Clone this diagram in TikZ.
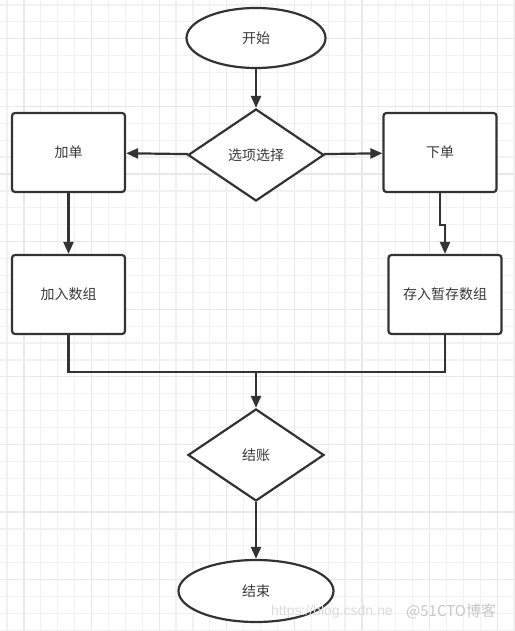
\documentclass[tikz,border=0pt]{standalone}
\usepackage{fontspec}
\newfontfamily\cjk{Noto Sans CJK SC}
\newfontfamily\wmfont{Liberation Sans}
\usetikzlibrary{shapes.geometric,arrows.meta}
\definecolor{ink}{HTML}{333333}
\definecolor{textink}{HTML}{3A3A3A}
\definecolor{gridminor}{HTML}{F1F1F1}
\definecolor{gridmajor}{HTML}{E8E8E8}
\tikzset{
  base/.style={draw=ink, line width=2.2pt, fill=white, text=textink, font=\cjk\fontsize{14pt}{16pt}\selectfont, inner sep=0pt},
  term/.style={base, ellipse, minimum width=#1},
  decision/.style={base, diamond, minimum width=136pt, minimum height=92pt, aspect=1.48},
  procbox/.style={base, rectangle, rounded corners=3pt, minimum width=113pt, minimum height=79pt},
  link/.style={draw=ink, line width=2.2pt},
  arr/.style={link, -{Triangle[length=12pt,width=10pt]}},
}
\begin{document}
\begin{tikzpicture}[x=1pt,y=-1pt]
\useasboundingbox (0,0) rectangle (514,631);
\fill[white] (0,0) rectangle (514,631);
% grid
\foreach \i in {0,...,30} {
  \pgfmathsetmacro{\xx}{7+16.9*\i}
  \pgfmathtruncatemacro{\mm}{mod(\i,4)}
  \ifnum\mm=1 \draw[gridmajor, line width=1.2pt] (\xx,0) -- (\xx,631);
  \else \draw[gridminor, line width=1.2pt] (\xx,0) -- (\xx,631); \fi
}
\foreach \i in {0,...,37} {
  \pgfmathsetmacro{\yy}{5+16.9*\i}
  \pgfmathtruncatemacro{\mm}{mod(\i,4)}
  \ifnum\mm=2 \draw[gridmajor, line width=1.2pt] (0,\yy) -- (514,\yy);
  \else \draw[gridminor, line width=1.2pt] (0,\yy) -- (514,\yy); \fi
}

% nodes
\node[term=139pt, minimum height=60pt] (start) at (256,38) {开始};
\node[decision] (choose) at (256,155) {选项选择};
\node[procbox] (add) at (68.5,152.5) {加单};
\node[procbox] (addarr) at (68.5,294.5) {加入数组};
\node[procbox] (order) at (440,152.5) {下单};
\node[procbox] (store) at (445,294.5) {存入暂存数组};
\node[decision] (pay) at (256,455) {结账};
\node[term=155pt, minimum height=62pt] (end) at (256,591) {结束};

% connectors
\draw[arr] (start) -- (choose);
\draw[arr] (choose) -- (add);
\draw[arr] (choose) -- (order);
\draw[arr] (add) -- (addarr);
\draw[arr] (order.south) -- ++(0,32) -| (store.north);
\coordinate (merge) at (256,372);
\draw[link] (addarr.south) |- (merge) -| (store.south);
\draw[arr] (merge) -- (pay.north);
\draw[arr] (pay) -- (end);

% watermark
\node[text=black!14, font=\wmfont\fontsize{14pt}{16pt}\selectfont, anchor=west, inner sep=0pt] (wm1) at (271,612) {https://blog.csdn.ne};
\node[text=black!22, font=\cjk\fontsize{15pt}{17pt}\selectfont, anchor=west, inner sep=0pt] (wm2) at (406,611) {@51CTO博客};
\end{tikzpicture}
\end{document}
